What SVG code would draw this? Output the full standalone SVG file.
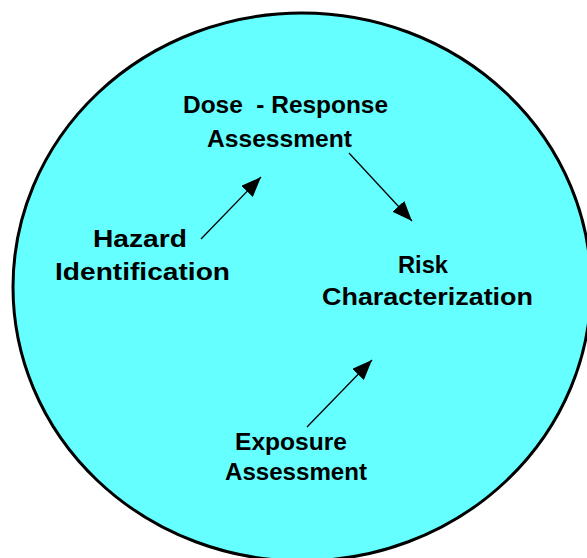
<svg xmlns="http://www.w3.org/2000/svg" width="587" height="558" viewBox="0 0 587 558">
<style>
.lbl{font-family:"Comic Sans MS","Liberation Sans","DejaVu Sans",sans-serif;font-weight:bold;font-size:23px;fill:#000;}
.conn{stroke:#000;stroke-width:1.3;fill:none;}
</style>
<defs>
<marker id="ah" viewBox="0 0 20 16" refX="20" refY="8" markerWidth="20" markerHeight="16" markerUnits="userSpaceOnUse" orient="auto">
<path d="M0,0 L20,8 L0,16 Z" fill="#000"/>
</marker>
</defs>
<rect width="587" height="558" fill="#fff"/>
<ellipse id="circle" cx="302" cy="287" rx="289" ry="274" fill="#66FFFF" stroke="#000" stroke-width="3"/>
<g id="connectors">
<line class="conn" x1="201" y1="239" x2="261" y2="177" marker-end="url(#ah)"/>
<line class="conn" x1="349" y1="153" x2="412" y2="221" marker-end="url(#ah)"/>
<line class="conn" x1="307" y1="427" x2="372" y2="360" marker-end="url(#ah)"/>
</g>
<g id="dose-response">
<text class="lbl" x="183" y="113" textLength="205" lengthAdjust="spacingAndGlyphs" xml:space="preserve">Dose  - Response</text>
<text class="lbl" x="207" y="147" textLength="145" lengthAdjust="spacingAndGlyphs">Assessment</text>
</g>
<g id="hazard">
<text class="lbl" x="93" y="247" textLength="94" lengthAdjust="spacingAndGlyphs">Hazard</text>
<text class="lbl" x="55" y="280" textLength="175" lengthAdjust="spacingAndGlyphs">Identification</text>
</g>
<g id="risk">
<text class="lbl" x="398" y="273" textLength="50" lengthAdjust="spacingAndGlyphs">Risk</text>
<text class="lbl" x="322" y="305" textLength="211" lengthAdjust="spacingAndGlyphs">Characterization</text>
</g>
<g id="exposure">
<text class="lbl" x="235" y="450" textLength="112" lengthAdjust="spacingAndGlyphs">Exposure</text>
<text class="lbl" x="225" y="480" textLength="142" lengthAdjust="spacingAndGlyphs">Assessment</text>
</g>
</svg>
